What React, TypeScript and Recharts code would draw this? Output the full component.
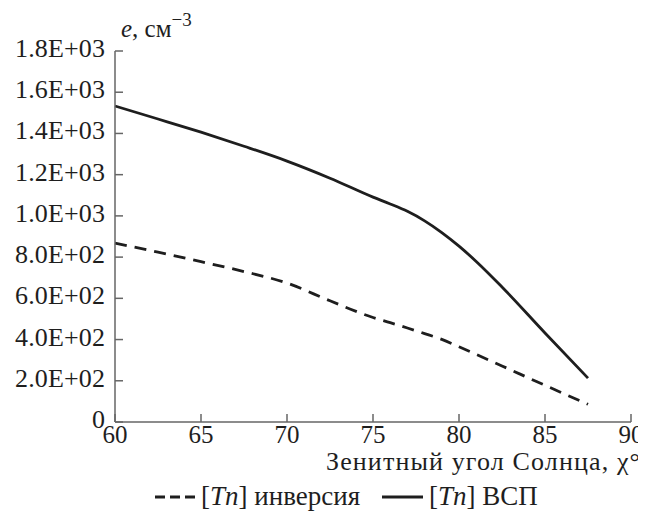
import { LineChart, Line, XAxis, YAxis, Label } from "recharts";

// zenith angle, degrees
const zenithAngle = [60, 62.5, 65, 67.5, 70, 72.5, 75, 76, 77, 78, 79, 80, 81, 82.5, 85, 87.5];
// electron density, cm^-3
const tnInversion = [868, 824, 778, 730, 674, 588, 507, 482, 456, 429, 401, 365, 328, 272, 178, 86];
const tnVsp = [1533, 1470, 1406, 1338, 1266, 1183, 1091, 1058, 1022, 976, 919, 853, 779, 655, 432, 213];

const xTicks = [60, 65, 70, 75, 80, 85, 90];
const yTicks = [0, 200, 400, 600, 800, 1000, 1200, 1400, 1600, 1800];
const yTickLabels = [
  "0",
  "2.0E+02",
  "4.0E+02",
  "6.0E+02",
  "8.0E+02",
  "1.0E+03",
  "1.2E+03",
  "1.4E+03",
  "1.6E+03",
  "1.8E+03",
];

const data = zenithAngle.map((chi, i) => ({
  chi,
  inv: tnInversion[i],
  vsp: tnVsp[i],
}));

const W = 638;
const H = 503;
const PL = 107; // plot left
const PT = 43; // plot top
const PR = 623; // plot right
const PB = 414; // plot bottom
const FONT = '"Liberation Serif", "Times New Roman", serif';
const AXIS = "#666";
const INK = "#1e1e1e";
const DASH = "12 8";

const YTick = (props: any) => {
  const { y, payload } = props;
  const label = yTickLabels[yTicks.indexOf(payload.value)];
  return (
    <g>
      <line x1={PL} x2={PL + 8} y1={y} y2={y} stroke={AXIS} strokeWidth={1.5} />
      <text
        x={PL - 10}
        y={y + 6}
        textAnchor="end"
        fontSize={26}
        fill={INK}
        fontFamily={FONT}
        textLength={label.length > 1 ? 90 : undefined}
        lengthAdjust="spacing"
      >
        {label}
      </text>
    </g>
  );
};

const XTick = (props: any) => {
  const { x, payload } = props;
  return (
    <g>
      <line x1={x} x2={x} y1={PB} y2={PB - 8} stroke={AXIS} strokeWidth={1.5} />
      <text x={x} y={PB + 21} textAnchor="middle" fontSize={25} fill={INK} fontFamily={FONT}>
        {payload.value}
      </text>
    </g>
  );
};

const YTitle = () => (
  <text x={PL + 6} y={29} fontSize={25} fill={INK} fontFamily={FONT}>
    <tspan fontStyle="italic">e</tspan>
    <tspan>, см</tspan>
    <tspan dy={-11} fontSize={19}>−3</tspan>
  </text>
);

const XTitleAndLegend = () => (
  <g fontFamily={FONT} fill={INK}>
    <text x={318} y={462} fontSize={26} textLength={314} lengthAdjust="spacing">
      Зенитный угол Солнца, χ°
    </text>
    <line x1={147} x2={188} y1={489} y2={489} stroke={INK} strokeWidth={3} strokeDasharray="10 5" />
    <text x={193} y={497} fontSize={27}>
      [<tspan fontStyle="italic">Tn</tspan>] инверсия
    </text>
    <line x1={374} x2={415} y1={489} y2={489} stroke={INK} strokeWidth={3} />
    <text x={421} y={497} fontSize={27}>
      [<tspan fontStyle="italic">Tn</tspan>] ВСП
    </text>
  </g>
);

export default function App() {
  return (
    <div style={{ width: W, height: H, overflow: "hidden" }}>
      <LineChart
        width={W}
        height={H}
        data={data}
        margin={{ top: PT, right: W - PR, left: 0, bottom: 0 }}
        style={{ overflow: "visible" }}
      >
        <XAxis
          dataKey="chi"
          type="number"
          domain={[60, 90]}
          ticks={xTicks}
          height={H - PB}
          axisLine={{ stroke: AXIS, strokeWidth: 1.5 }}
          tickLine={false}
          tick={<XTick />}
          interval={0}
        >
          <Label content={<XTitleAndLegend />} />
        </XAxis>
        <YAxis
          type="number"
          domain={[0, 1800]}
          ticks={yTicks}
          width={PL}
          axisLine={{ stroke: AXIS, strokeWidth: 1.5 }}
          tickLine={false}
          tick={<YTick />}
          interval={0}
        >
          <Label content={<YTitle />} />
        </YAxis>
        <Line
          type="monotone"
          dataKey="vsp"
          stroke={INK}
          strokeWidth={2.8}
          dot={false}
          isAnimationActive={false}
        />
        <Line
          type="monotone"
          dataKey="inv"
          stroke={INK}
          strokeWidth={2.8}
          strokeDasharray={DASH}
          dot={false}
          isAnimationActive={false}
        />
      </LineChart>
    </div>
  );
}
